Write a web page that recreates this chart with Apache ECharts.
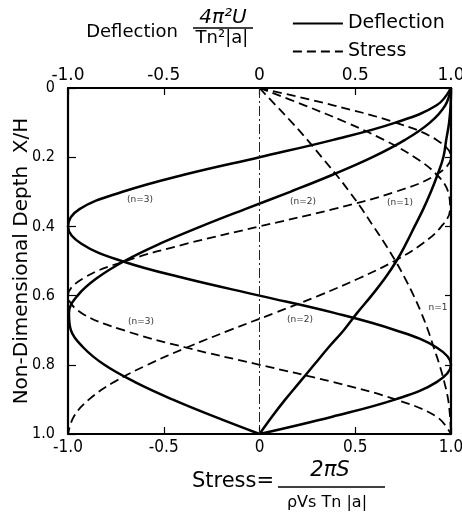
<!DOCTYPE html>
<html>
<head>
<meta charset="utf-8">
<script src="https://cdn.jsdelivr.net/npm/echarts@6/dist/echarts.min.js"></script>
<style>
html,body{margin:0;padding:0;background:#fff;}
#chart{width:462px;height:517px;}
</style>
</head>
<body>
<div id="chart"></div>
<script>
// Non-dimensional depth X/H at which values were read
var depth = [0, 0.05, 0.1, 0.15, 0.2, 0.25, 0.3, 0.35, 0.4, 0.45, 0.5, 0.55, 0.6, 0.65, 0.7, 0.75, 0.8, 0.85, 0.9, 0.95, 1.0];

// Deflection (solid) for modes n=1,2,3
var deflN1 = [1.0, 0.998, 0.99, 0.975, 0.96, 0.93, 0.895, 0.855, 0.81, 0.765, 0.715, 0.655, 0.585, 0.51, 0.44, 0.36, 0.285, 0.21, 0.135, 0.065, 0.0];
var deflN2 = [1.0, 0.97, 0.89, 0.76, 0.59, 0.385, 0.16, -0.075, -0.305, -0.52, -0.705, -0.85, -0.95, -0.995, -0.985, -0.92, -0.81, -0.65, -0.455, -0.235, 0.0];
var deflN3 = [1.0, 0.925, 0.71, 0.385, 0.0, -0.39, -0.715, -0.94, -1.0, -0.93, -0.72, -0.39, 0.0, 0.39, 0.71, 0.925, 1.0, 0.925, 0.71, 0.38, 0.0];

// Stress (dashed) for modes n=1,2,3
var stressN1 = [0, 0.085, 0.17, 0.25, 0.325, 0.4, 0.47, 0.535, 0.595, 0.655, 0.71, 0.76, 0.805, 0.845, 0.88, 0.91, 0.94, 0.965, 0.985, 0.995, 1.0];
var stressN2 = [0, 0.235, 0.455, 0.65, 0.81, 0.925, 0.985, 0.995, 0.95, 0.85, 0.705, 0.52, 0.31, 0.08, -0.155, -0.38, -0.585, -0.76, -0.89, -0.97, -1.0];
var stressN3 = [0, 0.385, 0.71, 0.925, 1.0, 0.925, 0.71, 0.385, 0.0, -0.38, -0.7, -0.92, -1.0, -0.93, -0.71, -0.385, 0.0, 0.385, 0.71, 0.925, 1.0];

// Tick labels
var xTickLabels = ['-1.0', '-0.5', '0', '0.5', '1.0'];
var yTickLabels = ['0', '0.2', '0.4', '0.6', '0.8', '1.0'];

var FONT = '"DejaVu Sans", sans-serif';
var FONT_C = '"DejaVu Sans Condensed", "DejaVu Sans", sans-serif';

function pairs(vals) {
  return vals.map(function (v, i) { return [v, depth[i]]; });
}

var solidStyle = { color: '#000', width: 2.5, type: 'solid' };
var dashStyle = { color: '#000', width: 1.8, type: [9, 5] };

function lineSeries(name, vals, xIdx, style, extra) {
  var s = {
    name: name,
    type: 'line',
    xAxisIndex: xIdx,
    yAxisIndex: 0,
    data: pairs(vals),
    smooth: 0.4,
    symbol: 'none',
    showSymbol: false,
    lineStyle: style,
    itemStyle: { color: '#000' },
    silent: true,
    animation: false
  };
  if (extra) { for (var k in extra) s[k] = extra[k]; }
  return s;
}

var xLabelFmt = function (v) { return xTickLabels[Math.round((v + 1) / 0.5)]; };
var yLabelFmt = function (v) { return yTickLabels[Math.round(v / 0.2)]; };

var axisLineStyle = { show: true, onZero: false, lineStyle: { color: '#000', width: 2.2 } };

var chart = echarts.init(document.getElementById('chart'), null, { renderer: 'canvas' });

var option = {
  animation: false,
  backgroundColor: '#fff',
  grid: { left: 68, right: 11, top: 88, bottom: 83, containLabel: false, outerBoundsMode: 'none' },
  legend: {
    orient: 'vertical',
    left: 287,
    top: 9,
    itemWidth: 50,
    itemHeight: 20,
    itemGap: 9,
    data: ['Deflection', 'Stress'],
    itemStyle: { opacity: 0 },
    lineStyle: { width: 1.8 },
    textStyle: { fontFamily: FONT, fontSize: 19, color: '#000' },
    selectedMode: false
  },
  xAxis: [
    {
      type: 'value', position: 'bottom', min: -1, max: 1, interval: 0.5,
      axisLine: axisLineStyle,
      axisTick: { show: true, inside: true, length: 7, lineStyle: { color: '#000', width: 1.2 } },
      axisLabel: { formatter: xLabelFmt, fontFamily: FONT_C, fontSize: 17, color: '#000', margin: 5 },
      splitLine: { show: false }
    },
    {
      type: 'value', position: 'top', min: -1, max: 1, interval: 0.5,
      axisLine: axisLineStyle,
      axisTick: { show: true, inside: true, length: 7, lineStyle: { color: '#000', width: 1.2 } },
      axisLabel: { formatter: xLabelFmt, fontFamily: FONT, fontSize: 17, color: '#000', margin: 4 },
      splitLine: { show: false }
    }
  ],
  yAxis: [
    {
      type: 'value', position: 'left', inverse: true, min: 0, max: 1, interval: 0.2,
      axisLine: axisLineStyle,
      axisTick: { show: true, inside: true, length: 8, lineStyle: { color: '#000', width: 1.2 } },
      axisLabel: { formatter: yLabelFmt, fontFamily: FONT_C, fontSize: 16, color: '#000', margin: 13 },
      splitLine: { show: false },
      name: 'Non-Dimensional Depth  X/H',
      nameLocation: 'middle',
      nameGap: 36,
      nameMoveOverlap: false,
      nameRotate: 90,
      nameTextStyle: { fontFamily: FONT, fontSize: 20, color: '#000' }
    },
    {
      type: 'value', position: 'right', inverse: true, min: 0, max: 1, interval: 0.2,
      axisLine: axisLineStyle,
      axisTick: { show: true, inside: true, length: 6, lineStyle: { color: '#000', width: 1.2 } },
      axisLabel: { show: false },
      splitLine: { show: false }
    }
  ],
  series: [
    lineSeries('Deflection', deflN1, 1, solidStyle),
    lineSeries('Deflection', deflN2, 1, solidStyle),
    lineSeries('Deflection', deflN3, 1, solidStyle),
    lineSeries('Stress', stressN1, 0, dashStyle, {
      markLine: {
        silent: true, symbol: 'none', animation: false,
        label: { show: false },
        lineStyle: { color: '#222', width: 1, type: [10, 3, 2, 3] },
        data: [{ xAxis: 0 }]
      }
    }),
    lineSeries('Stress', stressN2, 0, dashStyle),
    lineSeries('Stress', stressN3, 0, dashStyle)
  ],
  graphic: [
    // Top title: Deflection  4π²U / Tn²|a|
    { type: 'text', x: 132, y: 32, style: { text: 'Deflection', font: '18px ' + FONT, fill: '#000', align: 'center', verticalAlign: 'middle' } },
    { type: 'text', x: 223, y: 18, style: { text: '4π²U', font: 'italic 20px ' + FONT, fill: '#000', align: 'center', verticalAlign: 'middle' } },
    { type: 'line', shape: { x1: 193, y1: 28, x2: 253, y2: 28 }, style: { stroke: '#000', lineWidth: 1.5 } },
    { type: 'text', x: 222, y: 38, style: { text: 'Tn²|a|', font: '18px ' + FONT, fill: '#000', align: 'center', verticalAlign: 'middle' } },
    // Bottom title: Stress = 2πS / ρVs Tn|a|
    { type: 'text', x: 233, y: 482, style: { text: 'Stress=', font: '21px ' + FONT, fill: '#000', align: 'center', verticalAlign: 'middle' } },
    { type: 'text', x: 330, y: 471, style: { text: '2πS', font: 'italic 21px ' + FONT, fill: '#000', align: 'center', verticalAlign: 'middle' } },
    { type: 'line', shape: { x1: 278, y1: 487, x2: 385, y2: 487 }, style: { stroke: '#000', lineWidth: 1.5 } },
    { type: 'text', x: 327, y: 503, style: { text: 'ρVs Tn |a|', font: '16px ' + FONT, fill: '#000', align: 'center', verticalAlign: 'middle' } },
    // Mode labels
    { type: 'text', x: 140, y: 200, style: { text: '(n=3)', font: '9px ' + FONT, fill: '#333', align: 'center', verticalAlign: 'middle' } },
    { type: 'text', x: 303, y: 202, style: { text: '(n=2)', font: '9px ' + FONT, fill: '#333', align: 'center', verticalAlign: 'middle' } },
    { type: 'text', x: 400, y: 203, style: { text: '(n=1)', font: '9px ' + FONT, fill: '#333', align: 'center', verticalAlign: 'middle' } },
    { type: 'text', x: 141, y: 322, style: { text: '(n=3)', font: '9px ' + FONT, fill: '#333', align: 'center', verticalAlign: 'middle' } },
    { type: 'text', x: 300, y: 320, style: { text: '(n=2)', font: '9px ' + FONT, fill: '#333', align: 'center', verticalAlign: 'middle' } },
    { type: 'text', x: 438, y: 308, style: { text: 'n=1', font: '9px ' + FONT, fill: '#333', align: 'center', verticalAlign: 'middle' } }
  ]
};

chart.setOption(option);
</script>
</body>
</html>
